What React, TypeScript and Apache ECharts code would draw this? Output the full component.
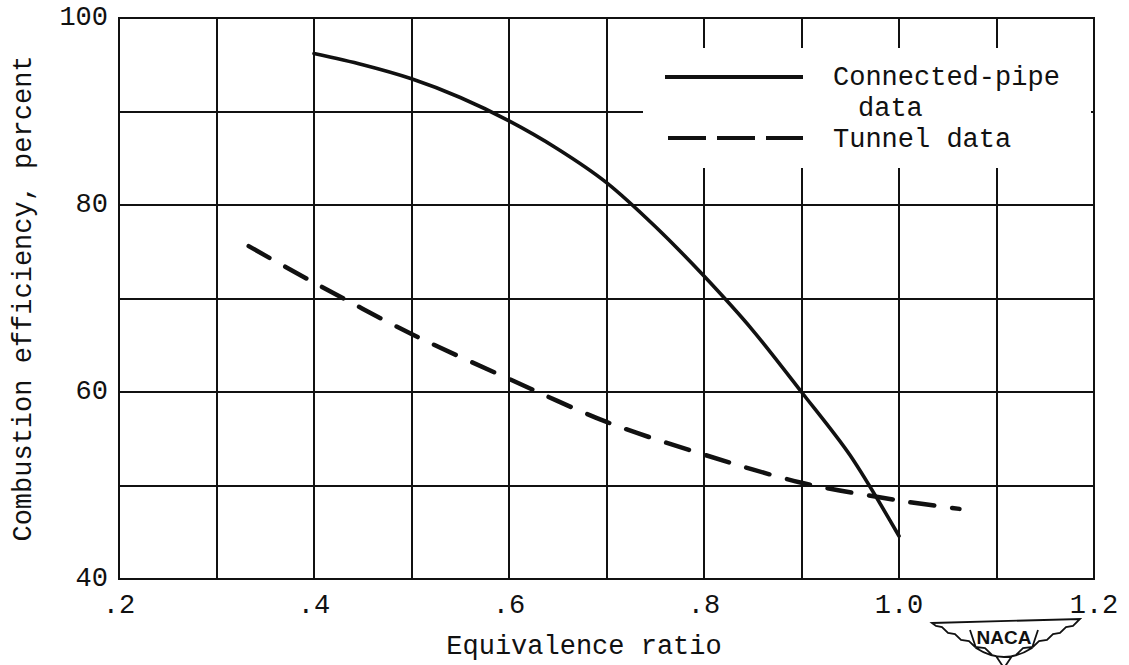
import React, { useEffect, useRef } from "react";
import * as echarts from "echarts";

// Connected-pipe data (solid curve): equivalence ratio, combustion efficiency (percent)
const pipeRatio = [0.4, 0.45, 0.5, 0.55, 0.6, 0.65, 0.7, 0.75, 0.8, 0.85, 0.9, 0.95, 1.0];
const pipeEff = [96.2, 95.0, 93.5, 91.5, 89.0, 86.0, 82.4, 77.7, 72.4, 66.6, 60.0, 53.2, 44.6];

// Tunnel data (dashed curve)
const tunnelRatio = [0.333, 0.4, 0.5, 0.6, 0.7, 0.8, 0.9, 1.0, 1.062];
const tunnelEff = [75.6, 71.7, 66.2, 61.4, 56.8, 53.3, 50.3, 48.4, 47.5];

// Tick labels
const xTickValues = [0.2, 0.4, 0.6, 0.8, 1.0, 1.2];
const xTickLabels = [".2", ".4", ".6", ".8", "1.0", "1.2"];
const yTickValues = [40, 60, 80, 100];
const yTickLabels = ["40", "60", "80", "100"];

const seriesNames = ["Connected-pipe data", "Tunnel data"];

const FONT = "'Liberation Mono', 'DejaVu Sans Mono', monospace";
const INK = "#111";

const LOGO_PATH =
  "M0,5 Q74,3 148,1 L141,8 L134,9 L128,15 L121,16 L115,22 L107,23 L101,29 L91,30 L84,37 L80,38 L72,50 L64,38 L60,37 L53,30 L43,29 L37,23 L29,22 L23,16 L16,15 L10,9 L4,8 Z " +
  "M38,12 L44,30 Q72,48 100,30 L106,12";

let logoRegistered = false;

export default function App() {
  const ref = useRef<HTMLDivElement>(null);

  useEffect(() => {
    if (!ref.current) return;
    if (!logoRegistered) {
      echarts.graphic.registerShape("logo", echarts.graphic.extendPath(LOGO_PATH, {}));
      logoRegistered = true;
    }
    const chart = echarts.init(ref.current, null, { renderer: "svg" });

    const findLabel = (v: number, vals: number[], labels: string[]) => {
      const i = vals.findIndex((t) => Math.abs(t - v) < 1e-6);
      return i >= 0 ? labels[i] : "";
    };

    const option: any = {
      animation: false,
      backgroundColor: "#fff",
      grid: {
        left: 119,
        right: 35,
        top: 18,
        bottom: 81,
        show: true,
        borderColor: INK,
        borderWidth: 2,
        backgroundColor: "transparent",
      },
      xAxis: {
        type: "value",
        min: 0.2,
        max: 1.2,
        interval: 0.1,
        name: "Equivalence ratio",
        nameLocation: "middle",
        nameGap: 54,
        nameTextStyle: {
          fontFamily: FONT,
          fontSize: 27,
          color: INK,
          padding: [0, 45, 0, 0],
        },
        axisLine: { show: false },
        axisTick: { show: false },
        axisLabel: {
          margin: 13,
          fontFamily: FONT,
          fontSize: 27,
          color: INK,
          formatter: (v: number) => findLabel(v, xTickValues, xTickLabels),
        },
        splitLine: { show: true, lineStyle: { color: INK, width: 2 } },
      },
      yAxis: {
        type: "value",
        min: 40,
        max: 100,
        interval: 10,
        name: "Combustion efficiency, percent",
        nameLocation: "middle",
        nameGap: 82,
        nameTextStyle: { fontFamily: FONT, fontSize: 27, color: INK },
        axisLine: { show: false },
        axisTick: { show: false },
        axisLabel: {
          margin: 11,
          fontFamily: FONT,
          fontSize: 27,
          color: INK,
          formatter: (v: number) => findLabel(v, yTickValues, yTickLabels),
        },
        splitLine: { show: true, lineStyle: { color: INK, width: 2 } },
      },
      series: [
        {
          name: seriesNames[0],
          type: "line",
          data: pipeRatio.map((x, i) => [x, pipeEff[i]]),
          showSymbol: false,
          smooth: 0.3,
          lineStyle: { color: INK, width: 3.6, type: "solid", cap: "round" },
          z: 5,
        },
        {
          name: seriesNames[1],
          type: "line",
          data: tunnelRatio.map((x, i) => [x, tunnelEff[i]]),
          showSymbol: false,
          smooth: 0.3,
          lineStyle: { color: INK, width: 4.5, type: [24, 18], cap: "round" },
          z: 5,
        },
      ],
      graphic: [
        {
          type: "rect",
          z: 100,
          shape: { x: 643, y: 48, width: 448, height: 120 },
          style: { fill: "#fff", stroke: null },
        },
        {
          type: "line",
          z: 101,
          shape: { x1: 665, y1: 77, x2: 803, y2: 77 },
          style: { stroke: INK, lineWidth: 4 },
        },
        {
          type: "text",
          z: 101,
          x: 833,
          y: 78,
          style: {
            text: "Connected-pipe",
            fontFamily: FONT,
            fontSize: 27,
            fill: INK,
            verticalAlign: "middle",
            align: "left",
          },
        },
        {
          type: "text",
          z: 101,
          x: 858,
          y: 109,
          style: {
            text: "data",
            fontFamily: FONT,
            fontSize: 27,
            fill: INK,
            verticalAlign: "middle",
            align: "left",
          },
        },
        {
          type: "line",
          z: 101,
          shape: { x1: 668, y1: 138, x2: 803, y2: 138 },
          style: { stroke: INK, lineWidth: 4, lineDash: [38, 11] },
        },
        {
          type: "text",
          z: 101,
          x: 833,
          y: 140,
          style: {
            text: "Tunnel data",
            fontFamily: FONT,
            fontSize: 27,
            fill: INK,
            verticalAlign: "middle",
            align: "left",
          },
        },
        {
          type: "logo",
          z: 101,
          x: 932,
          y: 618,
          scaleX: 1,
          scaleY: 1,
          style: { fill: "#fff", stroke: INK, lineWidth: 1.8 },
        },
        {
          type: "text",
          z: 102,
          x: 1004,
          y: 637,
          style: {
            text: "NACA",
            fontFamily: "'Liberation Sans', Arial, sans-serif",
            fontSize: 19,
            fontWeight: "bold",
            fill: INK,
            verticalAlign: "middle",
            align: "center",
          },
        },
      ],
    };

    chart.setOption(option);
    return () => chart.dispose();
  }, []);

  return (
    <div
      ref={ref}
      style={{ position: "absolute", left: 0, top: 0, width: 1129, height: 665, background: "#fff" }}
    />
  );
}
